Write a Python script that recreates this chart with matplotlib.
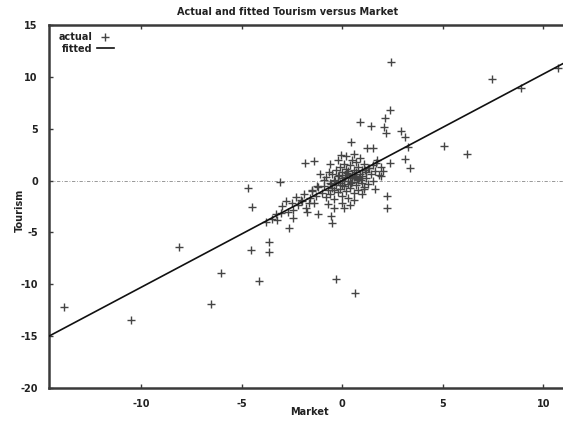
import matplotlib
matplotlib.use("Agg")
import matplotlib.pyplot as plt

market = [
    -13.87, -10.54, -8.12, -6.52, -6.06, -4.57, -4.15, -3.66, -3.64,
    -4.68, -4.52, -3.10, -0.30, 0.65,
    2.40, 7.44, 8.90, 10.75, 5.08, 6.20,
    2.36, 2.12, 0.87, 1.40, 2.07, 2.15, 2.94, 3.14, 3.27, 3.11, 3.39,
    0.43, 1.21, 1.54, -1.86, -1.41, -0.08, 2.36, 1.90, 2.20, 2.20, 1.07,
    -1.19, -0.58, -0.50, -2.65, -2.98, -3.06, -2.48, -2.48, -2.07, -3.23,
    -1.66, -1.74, 0.08, -0.42, 0.58, -1.49, -1.24, -0.91, -0.66, 1.65,
    1.32, 0.91,
    -1.0, -0.9, -0.8, -0.8, -0.7, -0.6, -0.6, -0.5, -0.5, -0.4, -0.4,
    -0.3, -0.3, -0.2, -0.2, -0.1, -0.1, -0.1, 0.0, 0.0, 0.0, 0.1, 0.1,
    0.1, 0.2, 0.2, 0.2, 0.3, 0.3, 0.3, 0.4, 0.4, 0.4, 0.5, 0.5, 0.5,
    0.6, 0.6, 0.6, 0.7, 0.7, 0.7, 0.8, 0.8, 0.8, 0.9, 0.9, 1.0, 1.0,
    1.0, 1.1, 1.1, 1.2, 1.2, 1.3, 1.3, 1.4, 1.5, 1.5, 1.6, 1.7, 1.8,
    1.9, 2.0, -1.2, -1.3, -1.4, -1.5, -1.6, -1.8, -1.9, -2.0, -2.2,
    -2.3, -2.5, -2.7, -2.8, -3.3, -3.5, -3.8, -0.2, 0.2, -0.6, 0.0,
    0.4, -0.7, 1.0, 0.6, -1.1, 1.6, 0.3, -0.2, 0.0, 0.5, -0.4,
    0.15, -0.35, 0.65, 0.85, -0.15, 0.45, 1.15, -0.55, 0.25, 0.75,
]
tourism = [
    -12.16, -13.44, -6.43, -11.87, -8.88, -6.72, -9.68, -5.89, -6.92,
    -0.75, -2.55, -0.10, -9.50, -10.80,
    11.40, 9.83, 8.90, 10.90, 3.34, 2.57,
    6.81, 6.00, 5.65, 5.30, 5.20, 4.56, 4.75, 4.18, 3.27, 2.05, 1.19,
    3.69, 3.17, 3.17, 1.73, 1.89, 2.47, 1.67, 0.44, -1.49, -2.67, -0.84,
    -3.25, -3.41, -4.12, -4.60, -2.45, -3.16, -2.83, -3.64, -1.87, -3.80,
    -2.19, -3.00, -2.67, -2.67, -1.87, -0.91, -0.52, 0.06, 0.86, 1.67,
    1.19, 0.06,
    -1.2, -0.5, -1.6, 0.3, -0.9, -0.2, -1.3, 0.6, -0.7, -1.8, 0.1,
    -0.4, 1.0, -1.1, 0.4, -0.2, 1.3, -0.8, 0.2, -1.5, 0.8, -0.5, 1.6,
    0.0, -1.0, 0.5, 1.1, -0.3, 0.9, -1.7, 0.2, 1.5, -0.7, 0.6, -0.1,
    2.0, 1.0, -1.2, 0.3, 1.8, -0.4, 0.8, 0.1, 1.3, -0.9, 0.6, 2.2,
    -0.2, 1.0, 0.4, 1.6, -0.6, 0.8, 0.2, 1.2, -0.3, 0.6, 1.5, 0.0,
    0.9, 2.0, 0.5, 1.3, 0.9, -0.6, -1.5, -2.2, -1.0, -1.7, -2.6, -1.3,
    -2.0, -2.4, -1.6, -2.2, -3.0, -2.0, -3.2, -3.7, -4.0, 2.0, 2.4,
    1.6, -2.2, -2.4, -2.3, -1.3, 2.6, 0.6, -0.8, 0.0, 0.0, -0.4, 0.3,
    -0.9, 0.35, -0.05, 0.45, 0.25, 0.55, -0.25, 1.05, -0.35, 0.7, 0.15,
]

# fitted line end points
fitted_x = [-14.6, 11.0]
fitted_y = [-15.0, 11.3]

xticks = [-10, -5, 0, 5, 10]
yticks = [15, 10, 5, 0, -5, -10, -15, -20]

dark = "#3a3a3a"
fs = 7

fig = plt.figure(figsize=(5.63, 4.24), dpi=100)
ax = fig.add_axes([49 / 563, 1 - 388 / 424, 1 - 49 / 563, (388 - 25) / 424])

ax.axhline(0, color="#888888", lw=0.6, ls=(0, (4, 2, 1, 2)), zorder=1)
ax.scatter(market, tourism, marker="+", s=34, color="#454545",
           linewidths=1.0, label="actual", zorder=3)
ax.plot(fitted_x, fitted_y, color="#111111", lw=1.2, label="fitted", zorder=4)

ax.set_xlim(-14.6, 10.98)
ax.set_ylim(-20, 15)
ax.set_xticks(xticks)
ax.set_yticks(yticks)
ax.set_xticklabels([str(t) for t in xticks])
ax.set_yticklabels([str(t) for t in yticks])
ax.tick_params(direction="in", length=3, width=1, colors=dark,
               labelsize=fs, top=True, right=False, pad=8)
for lab in ax.get_xticklabels() + ax.get_yticklabels():
    lab.set_color("#222222")
    lab.set_fontweight("bold")

for side in ["left", "bottom", "top"]:
    ax.spines[side].set_linewidth(1.8)
    ax.spines[side].set_color(dark)
ax.spines["right"].set_visible(False)

leg = ax.legend(loc="upper left", bbox_to_anchor=(0.005, 1.0), frameon=False,
                markerfirst=False, fontsize=fs, handlelength=1.7,
                handletextpad=0.5, labelspacing=0.2, borderaxespad=0.3,
                scatterpoints=1)
for t in leg.get_texts():
    t.set_fontweight("bold")
    t.set_color("#222222")

fig.text(288 / 563, 1 - 12 / 424, "Actual and fitted Tourism versus Market",
         ha="center", va="center", fontsize=fs, fontweight="bold", color="#222222")
fig.text(309 / 563, 1 - 412 / 424, "Market", ha="center", va="center",
         fontsize=fs, fontweight="bold", color="#222222")
fig.text(20 / 563, 1 - 210 / 424, "Tourism", ha="center", va="center",
         rotation=90, fontsize=fs, fontweight="bold", color="#222222")

fig.savefig("out.png", dpi=100)
